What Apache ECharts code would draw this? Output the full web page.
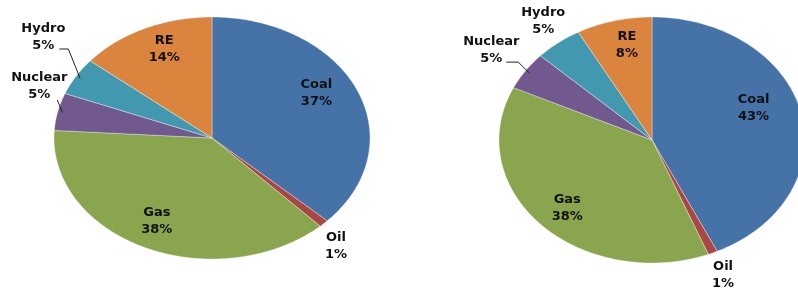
<!DOCTYPE html>
<html>
<head>
<meta charset="utf-8">
<script src="https://cdn.jsdelivr.net/npm/echarts@6/dist/echarts.min.js"></script>
<style>
  html, body { margin: 0; padding: 0; background: #fff; }
  #chart { width: 798px; height: 293px; }
</style>
</head>
<body>
<div id="chart"></div>
<script>
// data
const categories = ['Coal', 'Oil', 'Gas', 'Nuclear', 'Hydro', 'RE'];
const shareLeft = [37, 1, 38, 5, 5, 14];
const shareRight = [43, 1, 38, 5, 5, 8];
const colors = ['#4572A7', '#AA4643', '#89A54E', '#71588F', '#4198AF', '#DB843D'];

// layout of the two (stretched) pies
// label: [radial factor x, radial factor y] from the slice mid angle
const pies = [
  {
    values: shareLeft, cx: 212, cy: 138, rx: 158, ry: 121,
    labels: [[0.72, 0.94], [1.11, 1.26], [0.82, 0.76], [1.12, 1.97], [1.24, 1.64], [0.71, 0.81]],
    leaders: { 3: [[18, 14]], 4: [[16, 12], [25, 12]] }
  },
  {
    values: shareRight, cx: 652, cy: 140, rx: 153, ry: 123,
    labels: [[0.68, 1.19], [1.17, 1.2], [0.76, 0.81], [1.27, 1.3], [1.16, 1.22], [0.66, 0.8]],
    leaders: { 3: [[15, 12], [27, 12]] }
  }
];

function makeData(values) {
  const total = values.reduce((a, b) => a + b, 0);
  let acc = 0;
  return values.map((v, i) => {
    const s = acc / total;
    acc += v;
    return { value: [s, acc / total, v], name: categories[i] };
  });
}

function pt(p, frac, fx, fy) {
  const a = frac * Math.PI * 2;
  return [p.cx + p.rx * fx * Math.sin(a), p.cy - p.ry * fy * Math.cos(a)];
}

function makeRender(p) {
  return function (params, api) {
    const i = params.dataIndex;
    const s = api.value(0), e = api.value(1), v = api.value(2);
    const steps = Math.max(2, Math.ceil((e - s) * 360));
    const points = [[p.cx, p.cy]];
    for (let k = 0; k <= steps; k++) {
      points.push(pt(p, s + (e - s) * k / steps, 1, 1));
    }
    const mid = (s + e) / 2;
    const lp = pt(p, mid, p.labels[i][0], p.labels[i][1]);
    const children = [{
      type: 'polygon',
      shape: { points: points },
      style: { fill: colors[i], stroke: 'rgba(255,255,255,0.45)', lineWidth: 0.8 }
    }, {
      type: 'text',
      x: lp[0], y: lp[1], z2: 10,
      style: {
        text: categories[i] + '\n' + v + '%',
        align: 'center', verticalAlign: 'middle',
        font: 'bold 13px "DejaVu Sans"', fill: '#111', lineHeight: 17
      }
    }];
    const ld = p.leaders[i];
    if (ld) {
      const line = ld.map(o => [lp[0] + o[0], lp[1] + o[1]]);
      line.push(pt(p, mid, 0.97, 0.97));
      children.push({
        type: 'polyline', z2: 10,
        shape: { points: line },
        style: { stroke: '#222', lineWidth: 1, fill: null }
      });
    }
    return { type: 'group', children: children };
  };
}

const chart = echarts.init(document.getElementById('chart'), null, { renderer: 'canvas' });
chart.setOption({
  animation: false,
  series: pies.map(p => ({
    type: 'custom',
    coordinateSystem: 'none',
    renderItem: makeRender(p),
    data: makeData(p.values)
  }))
});
</script>
</body>
</html>
